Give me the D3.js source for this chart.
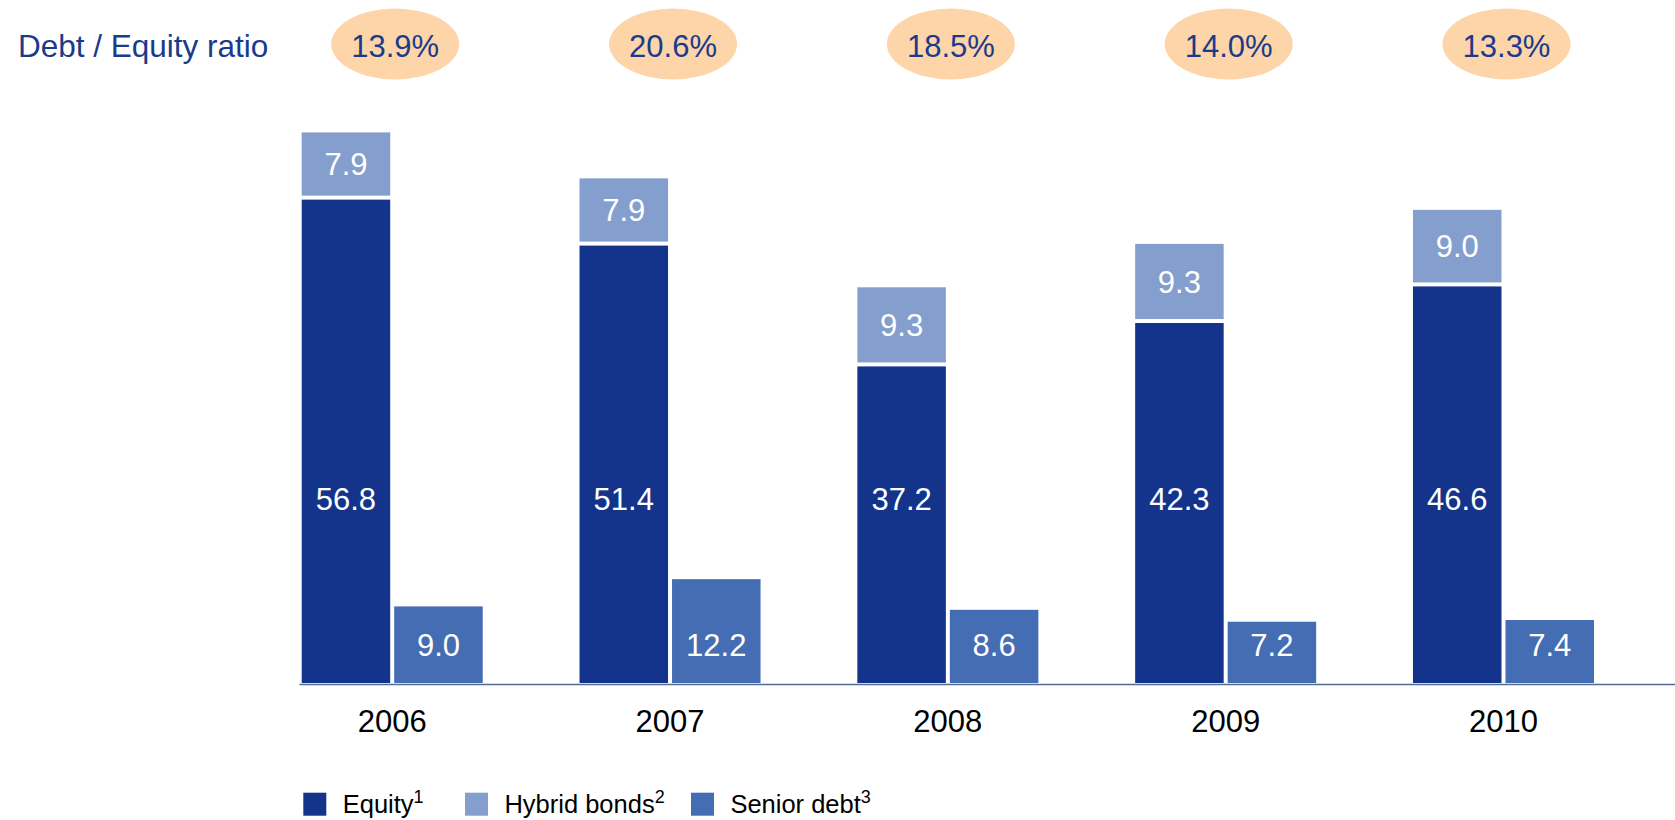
<!DOCTYPE html>
<html>
<head>
<meta charset="utf-8">
<script src="https://cdn.jsdelivr.net/npm/d3@7"></script>
<style>
  html, body { margin: 0; padding: 0; background: #fff; }
  svg { display: block; font-family: "Liberation Sans", Arial, sans-serif; }
</style>
</head>
<body>
<svg id="chart" width="1675" height="820"></svg>
<script>
// Capital structure by year (EUR bn)
const years = ["2006", "2007", "2008", "2009", "2010"];
const equity = [56.8, 51.4, 37.2, 42.3, 46.6];
const hybridBonds = [7.9, 7.9, 9.3, 9.3, 9.0];
const seniorDebt = [9.0, 12.2, 8.6, 7.2, 7.4];
const debtEquityRatio = ["13.9%", "20.6%", "18.5%", "14.0%", "13.3%"];
const legendLabels = [
  { name: "Equity", note: "1" },
  { name: "Hybrid bonds", note: "2" },
  { name: "Senior debt", note: "3" }
];

const colors = {
  equity: "#13348A",
  hybrid: "#849FCD",
  senior: "#456DB4",
  ratioFill: "#FDD5A8",
  header: "#1A3A8C",
  axis: "#506B96"
};

const W = 1675, H = 820;
const svg = d3.select("#chart");

const rows = years.map((yr, i) => ({
  year: yr,
  equity: equity[i],
  hybrid: hybridBonds[i],
  senior: seniorDebt[i],
  ratio: debtEquityRatio[i]
}));

// Scales
const x0 = d3.scaleBand()
  .domain(years)
  .range([301.7, 1594])
  .paddingInner(0.3484)
  .paddingOuter(0);

const x1 = d3.scaleBand()
  .domain(["equity", "senior"])
  .range([0, x0.bandwidth()])
  .paddingInner(0.0432)
  .paddingOuter(0);

const y = d3.scaleLinear()
  .domain([0, 70])
  .range([683, 683 - 70 * 8.51]);

const stackGap = 4;
const valueFont = 31;

const groups = svg.append("g").selectAll("g.year")
  .data(rows)
  .join("g")
  .attr("class", "year")
  .attr("transform", d => `translate(${x0(d.year)},0)`);

// Equity bars
groups.append("rect")
  .attr("x", x1("equity"))
  .attr("width", x1.bandwidth())
  .attr("y", d => y(d.equity))
  .attr("height", d => y(0) - y(d.equity))
  .attr("fill", colors.equity);

// Hybrid bonds stacked on top of equity
groups.append("rect")
  .attr("x", x1("equity"))
  .attr("width", x1.bandwidth())
  .attr("y", d => y(d.equity + d.hybrid))
  .attr("height", d => y(d.equity) - y(d.equity + d.hybrid) - stackGap)
  .attr("fill", colors.hybrid);

// Senior debt bars
groups.append("rect")
  .attr("x", x1("senior"))
  .attr("width", x1.bandwidth())
  .attr("y", d => y(d.senior))
  .attr("height", d => y(0) - y(d.senior))
  .attr("fill", colors.senior);

// Value labels
const labelStyle = sel => sel
  .attr("text-anchor", "middle")
  .attr("fill", "#fff")
  .attr("font-size", valueFont);

groups.append("text")
  .call(labelStyle)
  .attr("x", x1("equity") + x1.bandwidth() / 2)
  .attr("y", 510)
  .text(d => d.equity.toFixed(1));

groups.append("text")
  .call(labelStyle)
  .attr("x", x1("equity") + x1.bandwidth() / 2)
  .attr("y", d => (y(d.equity + d.hybrid) + y(d.equity) - stackGap) / 2)
  .attr("dy", "0.36em")
  .text(d => d.hybrid.toFixed(1));

groups.append("text")
  .call(labelStyle)
  .attr("x", x1("senior") + x1.bandwidth() / 2)
  .attr("y", 656)
  .text(d => d.senior.toFixed(1));

// Baseline
svg.append("line")
  .attr("x1", 299.5).attr("x2", W)
  .attr("y1", y(0) + 1.5).attr("y2", y(0) + 1.5)
  .attr("stroke", colors.axis)
  .attr("stroke-width", 1.6);

// Year axis
const xAxis = svg.append("g")
  .attr("transform", `translate(0,${y(0)})`)
  .call(d3.axisBottom(x0).tickSize(0).tickPadding(27));
xAxis.select(".domain").remove();
xAxis.selectAll("text")
  .attr("font-family", "Liberation Sans, Arial, sans-serif")
  .attr("font-size", 31)
  .attr("fill", "#000");

// Debt / Equity ratio row
svg.append("text")
  .attr("x", 18)
  .attr("y", 57)
  .attr("font-size", 31.5)
  .attr("fill", colors.header)
  .text("Debt / Equity ratio");

const ratio = svg.append("g").selectAll("g")
  .data(rows)
  .join("g")
  .attr("transform", d => `translate(${x0(d.year) + x0.bandwidth() / 2 + 3},44)`);

ratio.append("ellipse")
  .attr("rx", 64)
  .attr("ry", 35.5)
  .attr("fill", colors.ratioFill);

ratio.append("text")
  .attr("text-anchor", "middle")
  .attr("y", 13)
  .attr("font-size", 31)
  .attr("fill", colors.header)
  .text(d => d.ratio);

// Legend
const legendColors = [colors.equity, colors.hybrid, colors.senior];
const legendX = [303.3, 465, 691];
const legend = svg.append("g").selectAll("g")
  .data(legendLabels)
  .join("g")
  .attr("transform", (d, i) => `translate(${legendX[i]},792.7)`);

legend.append("rect")
  .attr("width", 23)
  .attr("height", 23)
  .attr("fill", (d, i) => legendColors[i]);

const lt = legend.append("text")
  .attr("x", 39.4)
  .attr("y", 20)
  .attr("font-size", 25.5)
  .attr("fill", "#000");
lt.append("tspan").text(d => d.name);
lt.append("tspan")
  .attr("font-size", 18)
  .attr("dy", -9.5)
  .text(d => d.note);
</script>
</body>
</html>
